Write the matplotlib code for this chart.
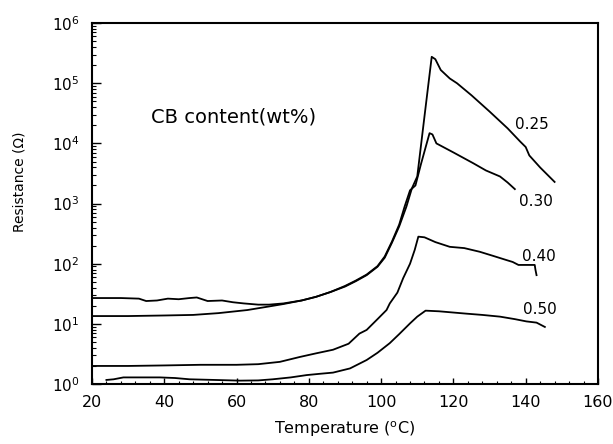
import matplotlib
matplotlib.use("Agg")
import matplotlib.pyplot as plt
from matplotlib.ticker import MultipleLocator, LogLocator, NullFormatter

# CB 0.25 wt%
t_025 = [20, 28, 33, 35, 38, 41, 44, 47, 49, 52, 56, 59, 62, 66, 69, 73, 78, 82,
         86, 90, 93, 96, 99, 101, 103, 105, 107, 108.5, 110, 112, 114, 115, 116.5,
         119, 121, 125, 130, 135, 138.5, 140, 141, 144, 148]
r_025 = [26.9, 26.9, 26.3, 24.0, 24.5, 26.3, 25.7, 26.9, 27.5, 24.0, 24.5, 22.9,
         21.9, 20.9, 20.9, 21.9, 24.5, 28.2, 33.9, 41.7, 51.3, 64.6, 89.1, 126,
         224, 417, 891, 1780, 2820, 28200, 275000, 251000, 166000, 120000, 100000,
         63100, 33900, 17800, 10700, 8710, 6310, 3980, 2290]

# CB 0.30 wt%
t_030 = [20, 30, 40, 48, 55, 63, 69, 73, 78, 82, 86, 90, 93, 96, 99, 101, 103,
         105, 106.5, 108, 109.5, 111, 113.4, 114.2, 115.3, 120, 125.5, 129, 132.9,
         135, 137]
r_030 = [13.5, 13.5, 13.8, 14.1, 15.1, 17.0, 19.5, 21.4, 24.5, 28.2, 33.9, 42.7,
         52.5, 66.1, 91.2, 132, 234, 447, 891, 1660, 2000, 4470, 14800, 14100,
         10000, 7080, 4680, 3550, 2820, 2240, 1740]

# CB 0.40 wt%
t_040 = [20, 30, 40, 50, 60, 66, 72, 77.5, 82, 86.7, 91, 94, 96, 99, 101.5, 102.4,
         104.5, 106.1, 108, 109.3, 110.3, 112, 115, 119, 123, 127.3, 131, 134.7,
         136.4, 138, 140, 142.5, 142.7, 143]
r_040 = [2.0, 2.0, 2.04, 2.09, 2.09, 2.14, 2.34, 2.82, 3.24, 3.72, 4.68, 6.9, 7.94,
         12.0, 17.0, 21.9, 33.1, 57.5, 100, 170, 282, 275, 229, 191, 182, 158, 135,
         115, 107, 95.5, 95.5, 95.5, 79.4, 64.6]

# CB 0.50 wt%
t_050 = [24, 26, 28.7, 33, 38.8, 43, 47, 54, 61, 66, 70, 75, 79.4, 83, 86.7, 91.4,
         96, 99, 102.4, 105, 108, 110, 112.3, 116, 123.6, 128, 132.9, 137, 140.2,
         143, 145.3]
r_050 = [1.17, 1.20, 1.29, 1.29, 1.29, 1.26, 1.20, 1.17, 1.14, 1.15, 1.20, 1.29,
         1.41, 1.48, 1.55, 1.82, 2.51, 3.31, 4.79, 6.76, 10.2, 13.2, 16.6, 16.2,
         14.8, 14.1, 13.2, 12.0, 11.0, 10.5, 8.9]

series = [(t_025, r_025), (t_030, r_030), (t_040, r_040), (t_050, r_050)]
labels = ["0.25", "0.30", "0.40", "0.50"]
label_x = [137, 138.1, 139.1, 139.3]
label_y = [20400, 1100, 132, 17.2]

fig = plt.figure(figsize=(6.13, 4.44), dpi=100)
ax = fig.add_axes([0.150, 0.135, 0.8255, 0.813])

for t, r in series:
    ax.plot(t, r, color="black", lw=1.3)

for lab, lx, ly in zip(labels, label_x, label_y):
    ax.text(lx, ly, lab, fontsize=11, ha="left", va="center")

ax.text(36.3, 27500, "CB content(wt%)", fontsize=14, ha="left", va="center")

ax.set_yscale("log")
ax.set_xlim(20, 160)
ax.set_ylim(1, 1e6)
ax.xaxis.set_major_locator(MultipleLocator(20))
ax.xaxis.set_minor_locator(MultipleLocator(4))
ax.yaxis.set_major_locator(LogLocator(base=10, numticks=10))
ax.yaxis.set_minor_locator(LogLocator(base=10, subs=range(2, 10), numticks=20))
ax.yaxis.set_minor_formatter(NullFormatter())

ax.tick_params(axis="both", which="both", direction="in", top=False, right=False)
ax.tick_params(axis="y", which="major", length=6.5, width=1, labelsize=11, pad=9)
ax.tick_params(axis="y", which="minor", length=3, width=0.8)
ax.tick_params(axis="x", which="major", length=4, width=1, labelsize=11.5, pad=8)
ax.tick_params(axis="x", which="minor", length=2.5, width=0.8)

for s in ax.spines.values():
    s.set_linewidth(1.5)

ax.set_xlabel("Temperature ($^{\\mathrm{o}}$C)", fontsize=11.5, labelpad=7)
ax.set_ylabel("Resistance (\u03a9)", fontsize=10)
ax.yaxis.set_label_coords(-0.130, 0.56)

fig.savefig("out.png", dpi=100)
